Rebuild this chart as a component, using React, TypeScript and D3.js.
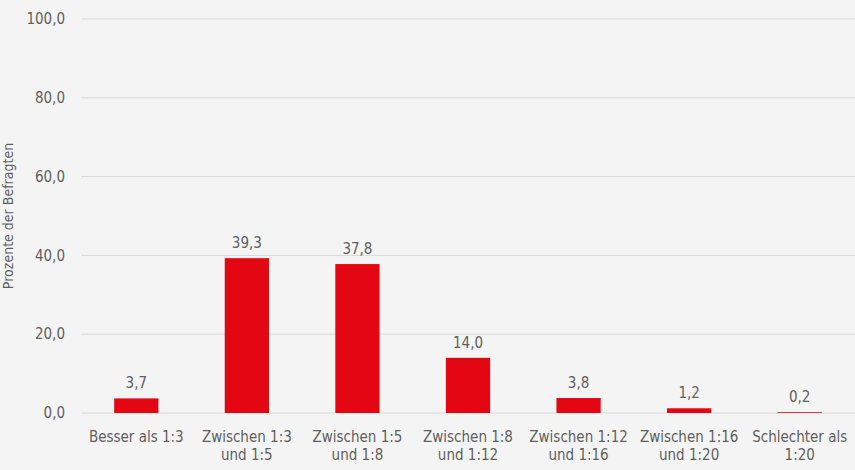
import React, { useEffect, useRef } from 'react';
import * as d3 from 'd3';

// Data
const categories = [
  ['Besser als 1:3'],
  ['Zwischen 1:3', 'und 1:5'],
  ['Zwischen 1:5', 'und 1:8'],
  ['Zwischen 1:8', 'und 1:12'],
  ['Zwischen 1:12', 'und 1:16'],
  ['Zwischen 1:16', 'und 1:20'],
  ['Schlechter als', '1:20'],
];
const values = [3.7, 39.3, 37.8, 14.0, 3.8, 1.2, 0.2];
const yTicks = [0, 20, 40, 60, 80, 100];
const yTitle = 'Prozente der Befragten';

const W = 855;
const H = 470;
const FONT = "'DejaVu Sans Condensed', sans-serif";
const fmt = (v: number) => v.toFixed(1).replace('.', ',');

export default function App() {
  const ref = useRef<SVGSVGElement>(null);

  useEffect(() => {
    const svg = d3.select(ref.current);
    svg.selectAll('*').remove();

    const margin = { top: 19, right: 0, bottom: 57, left: 81 };
    const x = d3.scaleBand<number>()
      .domain(values.map((_, i) => i))
      .range([margin.left, W - margin.right])
      .paddingInner(0.6)
      .paddingOuter(0.3);
    const y = d3.scaleLinear().domain([0, 100]).range([H - margin.bottom, margin.top]);

    svg.append('rect').attr('width', W).attr('height', H).attr('fill', '#f4f4f4');

    // grid
    svg.append('g').selectAll('line').data(yTicks).enter().append('line')
      .attr('x1', margin.left).attr('x2', W - margin.right)
      .attr('y1', d => y(d)).attr('y2', d => y(d))
      .attr('stroke', '#d9d9d9').attr('stroke-width', 1);

    // y tick labels
    svg.append('g').selectAll('text').data(yTicks).enter().append('text')
      .attr('x', 65).attr('y', d => y(d)).attr('dy', '0.35em')
      .attr('text-anchor', 'end')
      .style('font', `15px ${FONT}`).attr('fill', '#5f5f5f')
      .text(d => fmt(d));

    // axis title
    svg.append('text')
      .attr('transform', `translate(13,${(y(0) + y(100)) / 2}) rotate(-90)`)
      .attr('text-anchor', 'middle')
      .style('font', `14px ${FONT}`).attr('fill', '#5f5f5f')
      .text(yTitle);

    // bars
    svg.append('g').selectAll('rect').data(values).enter().append('rect')
      .attr('x', (_, i) => x(i)!)
      .attr('width', x.bandwidth())
      .attr('y', d => y(d))
      .attr('height', d => y(0) - y(d))
      .attr('fill', '#e30613');

    // value labels
    svg.append('g').selectAll('text').data(values).enter().append('text')
      .attr('x', (_, i) => x(i)! + x.bandwidth() / 2)
      .attr('y', d => y(d) - 10)
      .attr('text-anchor', 'middle')
      .style('font', `15px ${FONT}`).attr('fill', '#5f5f5f')
      .text(d => fmt(d));

    // category labels
    const cat = svg.append('g').selectAll('text').data(categories).enter().append('text')
      .attr('x', (_, i) => x(i)! + x.bandwidth() / 2)
      .attr('y', 442)
      .attr('text-anchor', 'middle')
      .style('font', `15px ${FONT}`).attr('fill', '#5f5f5f');
    cat.selectAll('tspan').data(d => d).enter().append('tspan')
      .attr('x', function () { return (this.parentNode as SVGTextElement).getAttribute('x'); })
      .attr('dy', (_, j) => (j === 0 ? 0 : 18))
      .text(d => d);
  }, []);

  return (
    <svg ref={ref} width={W} height={H} style={{ position: 'absolute', left: 0, top: 0 }} />
  );
}
